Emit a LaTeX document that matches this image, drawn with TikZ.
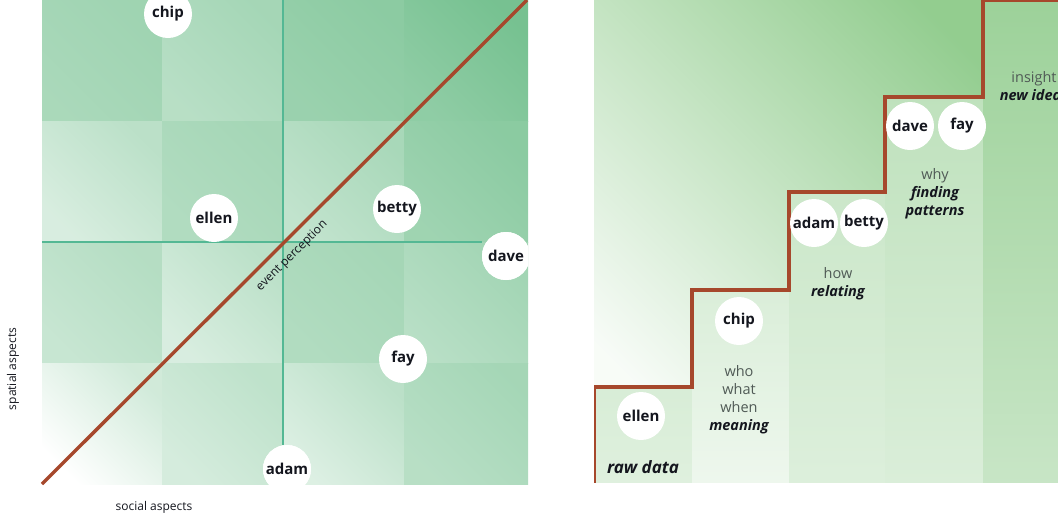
\documentclass[tikz,border=0pt]{standalone}
\usepackage{fontspec}
\setmainfont{Open Sans}
\definecolor{gA}{RGB}{100,185,130}
\definecolor{gB}{RGB}{132,198,128}
\definecolor{axisg}{RGB}{84,184,148}
\definecolor{rust}{RGB}{166,72,44}
\definecolor{ink}{RGB}{20,22,30}
\definecolor{soft}{RGB}{80,90,86}
\newcommand\gcell[6]{\path[bottom color=gA!#5, top color=gA!#6, shading angle=-45] (#1,#2) rectangle (#3,#4);}
\begin{document}
\begin{tikzpicture}[x=1pt,y=-1pt,
  person/.style={circle, fill=white, minimum size=48pt, inner sep=0pt, text=ink,
     font=\fontsize{15}{17}\selectfont\bfseries},
  axisline/.style={draw=axisg, line width=1.3pt},
  rustline/.style={draw=rust, line width=3.4pt},
  axislabel/.style={text=ink, font=\fontsize{12}{14}\selectfont},
  steplabel/.style={text=soft, align=center, font=\fontsize{14.5}{18}\selectfont},
  em/.style={text=ink, font=\fontsize{17}{20}\selectfont\bfseries\itshape}]
\useasboundingbox (0,0) rectangle (1058,515);
\fill[white] (0,0) rectangle (1058,515);
% ---------------- left panel ----------------
\begin{scope}
\clip (0,0) rectangle (528,515);
\gcell{42}{0}{162}{121}{55}{62}
\gcell{162}{0}{283}{121}{46}{58}
\gcell{283}{0}{404}{121}{65}{74}
\gcell{404}{0}{528}{121}{72}{88}
\gcell{42}{121}{162}{242}{25}{44}
\gcell{162}{121}{283}{242}{50}{58}
\gcell{283}{121}{404}{242}{40}{56}
\gcell{404}{121}{528}{242}{62}{75}
\gcell{42}{242}{162}{363}{36}{48}
\gcell{162}{242}{283}{363}{25}{44}
\gcell{283}{242}{404}{363}{50}{58}
\gcell{404}{242}{528}{363}{46}{60}
\gcell{42}{363}{162}{484}{0}{30}
\gcell{162}{363}{283}{484}{27}{42}
\gcell{283}{363}{404}{484}{22}{44}
\gcell{404}{363}{528}{484}{46}{58}
\coordinate (vtop) at (283,0);
\coordinate (hleft) at (42,242);
\coordinate (dstart) at (42,484);
\coordinate (dend) at (527,0);
\node[person] (adam) at (287,469) {adam};
\node[person] (dave) at (506,256) {dave};
\path[axisline] (vtop) -- (vtop |- adam.north);
\path[axisline] (hleft) -- (dave.west |- hleft);
\path[rustline] (dstart) -- (dend);
\node[person] at (adam) {adam};
\node[person] at (dave) {dave};
\node[person] (chip) at (168,14) {chip};
\node[person] (ellen) at (214,218) {ellen};
\node[person] (betty) at (397,209) {betty};
\node[person] (fay) at (403,359) {fay};
\node[axislabel, rotate=45] (event) at (292,256) {event perception};
\end{scope}
\node[axislabel, rotate=90] (spatial) at (13,369) {spatial aspects};
\node[axislabel] (social) at (154,507) {social aspects};
% ---------------- right panel ----------------
\begin{scope}
\clip (594,0) rectangle (1058,482);
\path[bottom color=gB!6, top color=gB!88, shading angle=-45] (594,0) rectangle (1058,482);
\path[top color=gB!32, bottom color=gB!26] (594,387) rectangle (692,482);
\path[top color=gB!30, bottom color=gB!14] (692,290) rectangle (789,482);
\path[top color=gB!42, bottom color=gB!28] (789,192) rectangle (885,482);
\path[top color=gB!52, bottom color=gB!30] (885,97) rectangle (983,482);
\path[top color=gB!80, bottom color=gB!45] (983,0) rectangle (1058,482);
\coordinate (s0) at (594,484);
\coordinate (s1) at (594,387);
\coordinate (s2) at (692,387);
\coordinate (s3) at (692,290);
\coordinate (s4) at (789,290);
\coordinate (s5) at (789,192);
\coordinate (s6) at (885,192);
\coordinate (s7) at (885,97);
\coordinate (s8) at (983,97);
\coordinate (s9) at (983,0);
\coordinate (s10) at (1060,0);
\path[rustline] (s0) -- (s1) -- (s2) -- (s3) -- (s4) -- (s5) -- (s6) -- (s7) -- (s8) -- (s9) -- (s10);
\node[person] (ellen2) at (641,416) {ellen};
\node[person] (chip2) at (739,321) {chip};
\node[person] (adam2) at (814,223) {adam};
\node[person] (betty2) at (864,223) {betty};
\node[person] (dave2) at (910,126) {dave};
\node[person] (fay2) at (962,126) {fay};
\node[em] (raw) at (643,467) {raw data};
\node[steplabel] (who) at (739,400) {who\\what\\when\\\textcolor{ink}{\bfseries\itshape meaning}};
\node[steplabel] (how) at (838,284) {how\\\textcolor{ink}{\bfseries\itshape relating}};
\node[steplabel] (why) at (935,194) {why\\\textcolor{ink}{\bfseries\itshape finding}\\\textcolor{ink}{\bfseries\itshape patterns}};
\node[steplabel] (insight) at (1034,86) {insight\\\textcolor{ink}{\bfseries\itshape new ideas}};
\end{scope}
\end{tikzpicture}
\end{document}
